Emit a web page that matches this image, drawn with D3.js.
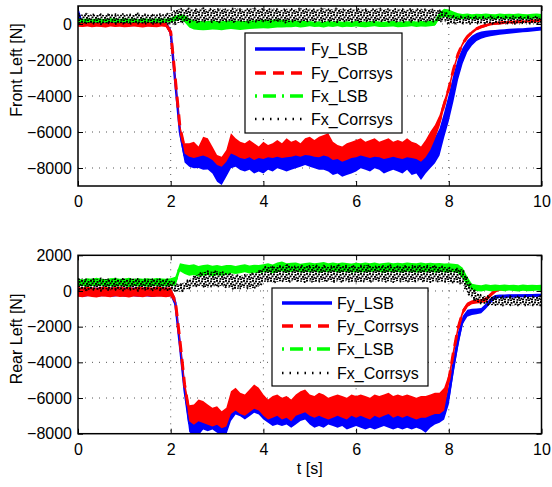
<!DOCTYPE html>
<html>
<head>
<meta charset="utf-8">
<script src="https://cdn.jsdelivr.net/npm/d3@7"></script>
<style>
  body { margin: 0; background: #fff; }
  svg text { font-family: "Liberation Sans", Arial, Helvetica, sans-serif; font-size: 16px; fill: #000; }
</style>
</head>
<body>
<svg id="chart" width="552" height="487"></svg>
<script>
// Sample times [s]
const time = [0,0.1,0.2,0.3,0.4,0.5,0.6,0.7,0.8,0.9,1,1.1,1.2,1.3,1.4,1.5,1.6,1.7,1.8,1.9,2,2.1,2.2,2.3,2.4,2.5,2.6,2.7,2.8,2.9,3,3.1,3.2,3.3,3.4,3.5,3.6,3.7,3.8,3.9,4,4.1,4.2,4.3,4.4,4.5,4.6,4.7,4.8,4.9,5,5.1,5.2,5.3,5.4,5.5,5.6,5.7,5.8,5.9,6,6.1,6.2,6.3,6.4,6.5,6.6,6.7,6.8,6.9,7,7.1,7.2,7.3,7.4,7.5,7.6,7.7,7.8,7.9,8,8.1,8.2,8.3,8.4,8.5,8.6,8.7,8.8,8.9,9,9.1,9.2,9.3,9.4,9.5,9.6,9.7,9.8,9.9,10];

const timeTicks = [0, 2, 4, 6, 8, 10];
const frontTicks = [-8000, -6000, -4000, -2000, 0];
const rearTicks = [-8000, -6000, -4000, -2000, 0, 2000];
const seriesNames = ["Fy_LSB", "Fy_Corrsys", "Fx_LSB", "Fx_Corrsys"];

// Front left wheel: lower / upper edge of each noisy signal band [N]
const frontFyLsbLo = [-50,-120,-90,-110,-80,-120,-100,-90,-130,-100,
  -80,-110,-120,-90,-100,-130,-90,-110,-100,-120,
  -650,-3500,-6300,-7700,-7930,-8020,-8000,-8100,-8080,-8300,
  -8760,-8940,-8480,-8020,-7930,-8110,-8200,-8100,-8300,-8200,
  -8300,-8100,-8200,-8020,-8100,-8200,-8100,-8020,-7930,-7830,
  -7930,-8020,-8100,-8100,-8200,-8390,-8300,-8480,-8390,-8300,
  -8200,-8020,-8100,-8200,-8020,-8100,-8300,-8200,-8100,-8200,
  -8300,-8100,-8390,-8300,-8670,-8300,-8020,-7740,-7300,-6300,
  -5400,-4300,-3100,-2200,-1550,-1200,-950,-820,-730,-680,
  -640,-600,-570,-540,-510,-490,-460,-440,-410,-390,
  -360];
const frontFyLsbHi = [950,120,150,110,140,130,100,150,120,140,
  110,130,150,120,110,140,130,120,150,110,
  -250,-3000,-5700,-6900,-7070,-7150,-7070,-7000,-7100,-7250,
  -7530,-7630,-7350,-6900,-7000,-7150,-7200,-7100,-7250,-7150,
  -7200,-7100,-7150,-7070,-7150,-7100,-7070,-7000,-7070,-6980,
  -7000,-7070,-7100,-7000,-7070,-7250,-7200,-7350,-7250,-7150,
  -7100,-7000,-7070,-7150,-7070,-7100,-7200,-7150,-7070,-7150,
  -7200,-7100,-7150,-7200,-7350,-7100,-6800,-6300,-5800,-4900,
  -3900,-2800,-1900,-1300,-900,-650,-500,-420,-380,-350,
  -330,-310,-290,-270,-250,-240,-230,-210,-190,-170,
  -150];
const frontFyCorLo = [-150,-170,-140,-180,-150,-160,-190,-140,-170,-150,
  -180,-160,-140,-170,-190,-150,-160,-180,-140,-170,
  -550,-3200,-5900,-7200,-7370,-7450,-7370,-7300,-7400,-7550,
  -7830,-7930,-7650,-7200,-7300,-7450,-7500,-7400,-7550,-7450,
  -7500,-7400,-7450,-7370,-7450,-7400,-7370,-7300,-7370,-7280,
  -7300,-7370,-7400,-7300,-7370,-7550,-7500,-7650,-7550,-7450,
  -7400,-7300,-7370,-7450,-7370,-7400,-7500,-7450,-7370,-7450,
  -7500,-7400,-7450,-7500,-7650,-7400,-7000,-6400,-5700,-4700,
  -3800,-2700,-1800,-1200,-800,-550,-350,-230,-150,-80,
  -40,-10,10,30,40,60,70,90,100,110,
  130];
const frontFyCorHi = [100,100,80,110,90,120,70,100,90,110,
  80,100,120,90,80,110,100,90,120,100,
  -350,-2900,-5600,-6630,-6630,-6540,-6810,-6260,-6350,-6810,
  -7280,-7370,-7000,-6070,-6350,-6540,-6630,-6440,-6630,-6810,
  -6540,-6720,-6630,-6440,-6630,-6350,-6540,-6440,-6630,-6350,
  -6260,-6440,-6260,-6170,-6070,-6540,-6720,-6810,-6630,-6540,
  -6440,-6350,-6540,-6440,-6350,-6540,-6440,-6350,-6540,-6440,
  -6540,-6350,-6540,-6630,-6810,-6440,-5980,-5610,-5060,-4220,
  -3390,-2370,-1540,-980,-610,-370,-185,-75,0,75,
  110,130,150,160,170,185,200,210,230,240,
  260];
const frontFxLsbLo = [60,90,70,100,80,60,90,110,70,80,
  100,60,90,80,70,100,80,90,60,80,
  100,150,250,100,-200,-300,-330,-350,-330,-300,
  -320,-350,-300,-280,-300,-330,-310,-280,-260,-250,
  -230,-250,-220,-200,-190,-180,-180,-150,-200,-160,
  -120,-170,-150,-190,-140,-160,-130,-180,-150,-170,
  -140,-160,-180,-150,-130,-160,-170,-150,-140,-180,
  -160,-150,-130,-160,-140,-150,-120,-100,300,400,
  350,300,250,280,300,260,290,270,300,280,
  260,300,280,290,270,300,280,260,290,300,
  280];
const frontFxLsbHi = [320,280,300,260,310,290,270,320,300,280,
  310,290,300,270,320,290,280,310,300,290,
  350,450,550,500,300,200,180,150,170,200,
  170,150,180,200,190,160,170,200,210,220,
  230,220,240,250,230,220,200,200,180,170,
  170,130,150,110,160,140,170,120,150,130,
  160,140,120,150,170,140,130,150,160,120,
  140,150,170,140,160,150,180,200,650,850,
  800,700,600,560,580,540,570,550,580,560,
  540,580,560,570,550,580,560,540,570,580,
  560];
const frontFxCorLo = [30,0,60,20,40,-10,30,50,10,40,
  20,0,50,30,10,40,20,0,30,50,
  -50,0,80,120,100,150,80,130,170,100,
  130,80,160,100,130,180,110,80,150,120,
  160,100,130,180,120,80,140,160,110,130,
  180,120,150,100,160,130,110,180,140,120,
  150,100,160,130,110,170,140,120,160,130,
  110,160,130,180,120,150,130,160,150,150,
  0,20,50,40,10,30,50,20,40,10,
  30,50,20,40,10,30,50,20,40,30,
  20];
const frontFxCorHi = [550,520,580,500,560,530,490,570,540,520,
  560,510,550,580,520,540,500,560,530,550,
  600,750,850,820,860,800,840,880,790,850,
  820,860,800,840,880,820,790,850,870,810,
  840,800,860,820,780,850,830,800,870,820,
  850,800,840,880,810,830,860,800,840,820,
  800,850,820,780,840,860,810,830,800,850,
  820,790,840,810,850,800,820,780,750,700,
  500,450,420,400,420,380,410,400,390,420,
  400,380,410,390,420,400,380,410,390,400,
  410];

// Rear left wheel [N]
const rearFyLsbLo = [-280,-320,-300,-260,-340,-300,-280,-320,-310,-270,
  -330,-300,-290,-320,-280,-310,-340,-290,-300,-320,
  -300,-900,-3300,-5800,-7900,-8150,-8100,-7760,-7860,-7760,
  -7950,-8050,-8050,-7290,-6920,-7020,-7200,-7020,-6830,-6920,
  -7200,-7390,-7570,-7480,-7570,-7480,-7670,-7480,-7290,-7200,
  -7480,-7670,-7570,-7670,-7480,-7570,-7670,-7570,-7760,-7670,
  -7570,-7670,-7760,-7670,-7760,-7670,-7570,-7670,-7760,-7670,
  -7760,-7670,-7760,-7670,-7760,-7950,-7670,-7480,-7390,-7200,
  -6360,-4670,-3170,-1860,-1450,-1350,-1300,-1250,-1000,-700,
  -450,-400,-380,-370,-360,-350,-350,-340,-340,-330,
  -330];
const rearFyLsbHi = [180,150,200,160,190,170,150,200,180,160,
  190,170,200,150,180,190,160,170,200,180,
  150,-400,-2800,-5300,-6900,-7200,-7000,-7100,-7200,-7300,
  -7200,-7400,-7300,-6600,-6400,-6600,-6700,-6500,-6300,-6400,
  -6700,-6900,-6800,-6700,-6900,-6800,-7000,-6700,-6600,-6500,
  -6700,-6800,-6700,-6800,-6900,-6800,-6700,-6800,-6900,-6700,
  -6800,-6700,-6800,-6900,-6700,-6800,-6700,-6600,-6800,-6700,
  -6800,-6700,-6800,-6900,-6800,-6800,-6700,-6600,-6600,-6400,
  -5300,-3700,-2300,-1400,-1050,-1000,-980,-950,-700,-400,
  -220,-200,-200,-190,-190,-180,-180,-170,-170,-160,
  -160];
const rearFyCorLo = [-320,-350,-300,-340,-360,-310,-330,-350,-300,-340,
  -320,-360,-310,-330,-350,-300,-340,-320,-330,-350,
  -310,-700,-3000,-5500,-7300,-7500,-7300,-7400,-7500,-7600,
  -7500,-7700,-7600,-6900,-6700,-6900,-7000,-6800,-6600,-6700,
  -7000,-7200,-7100,-7000,-7200,-7100,-7300,-7000,-6900,-6800,
  -7000,-7100,-7000,-7100,-7200,-7100,-7000,-7100,-7200,-7000,
  -7100,-7000,-7100,-7200,-7000,-7100,-7000,-6900,-7100,-7000,
  -7100,-7000,-7100,-7200,-7100,-7100,-7000,-6900,-6900,-6700,
  -5300,-3700,-2300,-1350,-900,-750,-700,-680,-600,-350,
  -100,30,60,80,100,90,110,80,100,70,
  60];
const rearFyCorHi = [230,200,250,210,180,240,220,190,230,250,
  200,220,180,240,210,230,200,250,220,190,
  210,-400,-2600,-5000,-6400,-6360,-6080,-6170,-6360,-6550,
  -6460,-6740,-6550,-5620,-5430,-5700,-5800,-5520,-5240,-5430,
  -5800,-6080,-5890,-5800,-5990,-5890,-6080,-5800,-5620,-5520,
  -5800,-5890,-5700,-5800,-5990,-5890,-5800,-5890,-5990,-5800,
  -5890,-5800,-5890,-5990,-5800,-5890,-5800,-5700,-5890,-5800,
  -5890,-5800,-5890,-5990,-5890,-5890,-5800,-5700,-5700,-5420,
  -4670,-3170,-1860,-1020,-650,-520,-480,-470,-350,-100,
  100,200,230,250,290,280,300,260,280,250,
  260];
const rearFxLsbLo = [250,300,220,280,260,310,240,270,230,290,
  260,230,300,250,280,240,270,300,250,260,
  280,300,1100,950,850,900,800,850,900,820,
  880,850,900,1000,950,1000,1050,980,1020,1000,
  1050,1080,1000,1050,1100,1020,1060,1100,1030,1080,
  1050,1100,1020,1070,1050,1100,1030,1060,1080,1040,
  1070,1030,1080,1050,1100,1060,1020,1080,1050,1070,
  1040,1080,1060,1030,1070,1050,1080,1040,1060,1050,
  1030,1060,1000,700,300,50,0,-30,20,-20,
  0,30,-10,20,0,-30,10,-20,0,20,
  0];
const rearFxLsbHi = [700,650,720,680,740,690,660,710,730,680,
  700,740,670,720,690,710,680,730,700,690,
  720,800,1550,1500,1450,1500,1400,1450,1480,1420,
  1450,1400,1450,1450,1400,1450,1500,1430,1470,1450,
  1500,1550,1480,1600,1650,1550,1580,1600,1530,1570,
  1600,1550,1580,1620,1560,1590,1550,1600,1570,1540,
  1580,1550,1600,1560,1590,1540,1570,1600,1550,1580,
  1560,1600,1570,1550,1590,1560,1580,1550,1570,1540,
  1560,1520,1500,1300,800,400,350,320,380,340,
  360,330,370,340,350,320,360,340,350,330,
  350];
const rearFxCorLo = [50,100,30,80,60,20,90,40,70,50,
  30,80,60,20,90,50,40,70,30,60,
  40,0,-50,50,150,250,300,250,200,280,
  250,300,200,150,100,150,200,120,180,250,
  500,550,480,520,560,500,540,580,520,500,
  550,500,540,520,580,500,550,520,560,510,
  540,500,560,520,550,580,510,540,500,560,
  520,550,500,540,560,520,500,550,530,520,
  500,480,450,400,-100,-400,-600,-700,-750,-800,
  -780,-820,-800,-790,-810,-800,-780,-820,-800,-810,
  -800];
const rearFxCorHi = [650,700,620,680,640,700,660,630,690,650,
  680,640,700,660,620,690,650,680,640,660,
  600,450,350,500,650,800,950,1050,1100,1080,
  1100,1050,1000,950,900,850,900,950,1000,1100,
  1300,1400,1350,1420,1380,1450,1400,1350,1420,1380,
  1400,1450,1380,1420,1350,1400,1450,1380,1420,1400,
  1380,1420,1450,1400,1350,1420,1380,1450,1400,1370,
  1420,1380,1400,1450,1380,1400,1420,1380,1400,1350,
  1300,1250,1250,1200,700,200,-100,-250,-300,-300,
  -320,-300,-310,-290,-300,-320,-300,-290,-310,-300,
  -300];

// ---- drawing ----
const svg = d3.select("#chart");

const styles = [
  { color: "#0000ff", dash: null,        width: 2.5, legendWidth: 3.5 },
  { color: "#ff0000", dash: "11,7",      width: 3,   legendWidth: 3.5 },
  { color: "#00ff00", dash: "2,6,13,6",  width: 3,   legendWidth: 3.5 },
  { color: "#000000", dash: "1.5,6",     width: 2,   legendWidth: 2.5 }
];

// speckle texture for the dotted, very noisy Fx_Corrsys trace
const defs = svg.append("defs");
const pat = defs.append("pattern")
  .attr("id", "speckle").attr("patternUnits", "userSpaceOnUse")
  .attr("width", 9).attr("height", 7);
[[0,0],[3,0.5],[6.5,1],[1.5,2.5],[5,3],[7.5,3.8],[0,4.5],[3.5,5],[6,5.5]].forEach(([px, py]) => {
  pat.append("rect").attr("x", px).attr("y", py).attr("width", 2).attr("height", 1.8).attr("fill", "#000");
});

const x = d3.scaleLinear().domain([0, 10]).range([78, 541.5]);

const panels = [
  {
    id: "front",
    y: d3.scaleLinear().domain([-9000, 1000]).range([186, 6]),
    ticks: frontTicks,
    ylabel: "Front Left [N]", ylabelX: 22, ylabelY: 70,
    series: [[frontFyLsbLo, frontFyLsbHi], [frontFyCorLo, frontFyCorHi],
             [frontFxLsbLo, frontFxLsbHi], [frontFxCorLo, frontFxCorHi]],
    legend: { x0: 245, y0: 33, x1: 402, y1: 133, sx: 255, tx: 311, rows: [49, 73, 96, 119] }
  },
  {
    id: "rear",
    y: d3.scaleLinear().domain([-8000, 2000]).range([433.7, 255.3]),
    ticks: rearTicks,
    ylabel: "Rear Left [N]", ylabelX: 22, ylabelY: 339,
    series: [[rearFyLsbLo, rearFyLsbHi], [rearFyCorLo, rearFyCorHi],
             [rearFxLsbLo, rearFxLsbHi], [rearFxCorLo, rearFxCorHi]],
    legend: { x0: 272, y0: 288, x1: 428, y1: 386, sx: 282, tx: 337, rows: [303, 326, 349, 373] }
  }
];

panels.forEach(p => {
  const y = p.y;
  const [xa, xb] = x.range();
  const [yb, ya] = y.range();
  const g = svg.append("g").attr("class", "panel-" + p.id);

  defs.append("clipPath").attr("id", "clip-" + p.id)
    .append("rect").attr("x", xa).attr("y", ya).attr("width", xb - xa).attr("height", yb - ya);

  // dotted grid
  const grid = g.append("g").attr("stroke", "#555").attr("stroke-width", 1).attr("stroke-dasharray", "1,6");
  timeTicks.filter(t => t > 0 && t < 10).forEach(t => {
    grid.append("line").attr("x1", x(t)).attr("x2", x(t)).attr("y1", ya).attr("y2", yb);
  });
  p.ticks.forEach(v => {
    if (y(v) > ya + 1 && y(v) < yb - 1)
      grid.append("line").attr("x1", xa).attr("x2", xb).attr("y1", y(v)).attr("y2", y(v));
  });

  // signal bands
  const plot = g.append("g").attr("clip-path", `url(#clip-${p.id})`);
  p.series.forEach(([lo, hi], k) => {
    const st = styles[k];
    const band = d3.area()
      .x((d, i) => x(time[i]))
      .y0((d, i) => y(lo[i]))
      .y1((d, i) => y(hi[i]));
    const mid = d3.line()
      .x((d, i) => x(time[i]))
      .y((d, i) => y((lo[i] + hi[i]) / 2));
    const edge = arr => d3.line().x((d, i) => x(time[i])).y((d, i) => y(arr[i]));

    plot.append("path").datum(time).attr("d", band)
      .attr("fill", k === 3 ? "url(#speckle)" : st.color).attr("stroke", "none");
    if (k === 3) {
      [lo, hi].forEach(arr => {
        plot.append("path").datum(time).attr("d", edge(arr))
          .attr("fill", "none").attr("stroke", st.color)
          .attr("stroke-width", st.width).attr("stroke-dasharray", st.dash);
      });
    } else {
      plot.append("path").datum(time).attr("d", mid)
        .attr("fill", "none").attr("stroke", st.color)
        .attr("stroke-width", st.width).attr("stroke-dasharray", st.dash);
    }
  });

  // axes with inward ticks on all four sides
  const fmt = d3.format("d");
  const left = g.append("g").attr("transform", `translate(${xa},0)`)
    .call(d3.axisLeft(y).tickValues(p.ticks).tickSizeInner(-5).tickSizeOuter(0).tickPadding(6).tickFormat(fmt));
  const right = g.append("g").attr("transform", `translate(${xb},0)`)
    .call(d3.axisRight(y).tickValues(p.ticks).tickSizeInner(-5).tickSizeOuter(0).tickFormat(""));
  const bottom = g.append("g").attr("transform", `translate(0,${yb})`)
    .call(d3.axisBottom(x).tickValues(timeTicks).tickSizeInner(-5).tickSizeOuter(0).tickPadding(9.5).tickFormat(fmt));
  const top = g.append("g").attr("transform", `translate(0,${ya})`)
    .call(d3.axisTop(x).tickValues(timeTicks).tickSizeInner(-5).tickSizeOuter(0).tickFormat(""));
  [left, right, bottom, top].forEach(a => {
    a.select(".domain").remove();
    a.selectAll("line").attr("stroke", "#000").attr("stroke-width", 1);
    a.selectAll("text").attr("font-size", 16)
      .attr("font-family", '"Liberation Sans", Arial, Helvetica, sans-serif').attr("fill", "#000");
  });

  g.append("rect").attr("x", xa).attr("y", ya).attr("width", xb - xa).attr("height", yb - ya)
    .attr("fill", "none").attr("stroke", "#000").attr("stroke-width", 1.5);

  g.append("text").attr("transform", `translate(${p.ylabelX},${p.ylabelY}) rotate(-90)`)
    .attr("text-anchor", "middle").text(p.ylabel);

  // legend
  const L = p.legend;
  const lg = g.append("g");
  lg.append("rect").attr("x", L.x0).attr("y", L.y0).attr("width", L.x1 - L.x0).attr("height", L.y1 - L.y0)
    .attr("fill", "#fff").attr("stroke", "#000").attr("stroke-width", 1.2);
  seriesNames.forEach((name, k) => {
    const st = styles[k];
    lg.append("line").attr("x1", L.sx).attr("x2", L.sx + 50).attr("y1", L.rows[k]).attr("y2", L.rows[k])
      .attr("stroke", st.color).attr("stroke-width", st.legendWidth).attr("stroke-dasharray", st.dash);
    lg.append("text").attr("x", L.tx).attr("y", L.rows[k]).attr("dy", "0.36em").text(name);
  });
});

svg.append("text").attr("x", (x.range()[0] + x.range()[1]) / 2).attr("y", 474)
  .attr("text-anchor", "middle").text("t [s]");
</script>
</body>
</html>
